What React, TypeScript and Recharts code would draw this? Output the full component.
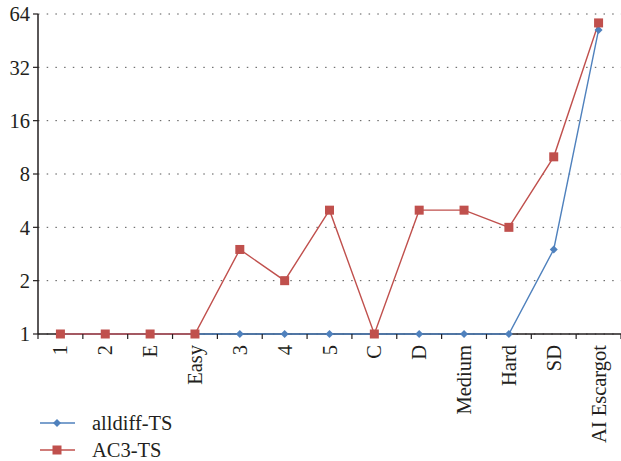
import { CartesianGrid, Legend, Line, LineChart, ReferenceLine, XAxis, YAxis } from "recharts"

const categories = ["1", "2", "E", "Easy", "3", "4", "5", "C", "D", "Medium", "Hard", "SD", "AI Escargot"]
const alldiffTS = [1, 1, 1, 1, 1, 1, 1, 1, 1, 1, 1, 3, 52]
const ac3TS = [1, 1, 1, 1, 3, 2, 5, 1, 5, 5, 4, 10, 57]
const yTicks = [1, 2, 4, 8, 16, 32, 64]

const data = categories.map((name, i) => ({ name, alldiff: alldiffTS[i], ac3: ac3TS[i] }))

const W = 621
const H = 461
const LEFT = 38
const BLUE = "#4f81bd"
const RED = "#c0504d"
const INK = "#231f20"
const FONT = "'Liberation Serif', 'DejaVu Serif', serif"
const FS = 20.5
const TICK_SIZE = 5
const TICK_MARGIN = 6
const band = (W - LEFT) / categories.length

const Diamond = ({ cx, cy, size = 4, color = BLUE }: any) => (
  <polygon
    points={`${cx},${cy - size} ${cx + size},${cy} ${cx},${cy + size} ${cx - size},${cy}`}
    fill={color}
  />
)

const Square = ({ cx, cy, size = 4.5, color = RED }: any) => (
  <rect x={cx - size} y={cy - size} width={size * 2} height={size * 2} fill={color} />
)

const XTick = (props: any) => {
  const { x, y, payload, index } = props
  const ay = y - TICK_SIZE - TICK_MARGIN
  return (
    <g>
      <line x1={x - band / 2} x2={x - band / 2} y1={ay} y2={ay + TICK_SIZE} stroke={INK} strokeWidth={1.2} />
      {index === categories.length - 1 && (
        <line x1={x + band / 2} x2={x + band / 2} y1={ay} y2={ay + TICK_SIZE} stroke={INK} strokeWidth={1.2} />
      )}
      <text
        x={x}
        y={y}
        transform={`rotate(-90 ${x} ${y})`}
        textAnchor="end"
        dominantBaseline="central"
        fill={INK}
        fontSize={FS}
        fontFamily={FONT}
      >
        {payload.value}
      </text>
    </g>
  )
}

const LegendContent = () => (
  <div style={{ height: 0, overflow: "visible" }}>
    <svg width={220} height={52} style={{ display: "block" }}>
      <line x1={2} x2={37} y1={11} y2={11} stroke={BLUE} strokeWidth={1.4} />
      <Diamond cx={19} cy={11} />
      <text x={54} y={11} dominantBaseline="central" fontSize={FS} fontFamily={FONT} fill={INK}>
        alldiff-TS
      </text>
      <line x1={2} x2={37} y1={38} y2={38} stroke={RED} strokeWidth={1.4} />
      <Square cx={19} cy={38} />
      <text x={54} y={38} dominantBaseline="central" fontSize={FS} fontFamily={FONT} fill={INK}>
        AC3-TS
      </text>
    </svg>
  </div>
)

export default function App() {
  return (
    <div style={{ position: "absolute", left: 0, top: 0, background: "#fff" }}>
      <LineChart width={W} height={H} data={data} margin={{ top: 14, right: 0, bottom: 0, left: 0 }}>
        <CartesianGrid vertical={false} stroke="#555" strokeDasharray="1.5 7.2" />
        <XAxis
          dataKey="name"
          interval={0}
          height={127}
          padding={{ left: band / 2, right: band / 2 }}
          tickLine={false}
          tickSize={TICK_SIZE}
          tickMargin={TICK_MARGIN}
          axisLine={false}
          tick={<XTick />}
        />
        <YAxis
          scale="log"
          domain={[1, 64]}
          ticks={yTicks}
          width={LEFT}
          tickSize={TICK_SIZE}
          tickMargin={3}
          tickLine={{ stroke: INK, strokeWidth: 1.2 }}
          axisLine={{ stroke: INK, strokeWidth: 1.5 }}
          tick={{ fill: INK, fontSize: FS, fontFamily: FONT }}
        />
        <ReferenceLine y={1} stroke={INK} strokeWidth={1.5} />
        <Legend
          verticalAlign="bottom"
          align="left"
          layout="horizontal"
          content={<LegendContent />}
          wrapperStyle={{ left: 38, top: 412, width: 220, height: 0 }}
        />
        <Line
          dataKey="alldiff"
          name="alldiff-TS"
          stroke={BLUE}
          strokeWidth={1.4}
          isAnimationActive={false}
          dot={(p: any) => <Diamond key={`d${p.index}`} cx={p.cx} cy={p.cy} />}
          activeDot={false}
        />
        <Line
          dataKey="ac3"
          name="AC3-TS"
          stroke={RED}
          strokeWidth={1.4}
          isAnimationActive={false}
          dot={(p: any) => <Square key={`s${p.index}`} cx={p.cx} cy={p.cy} />}
          activeDot={false}
        />
      </LineChart>
    </div>
  )
}
